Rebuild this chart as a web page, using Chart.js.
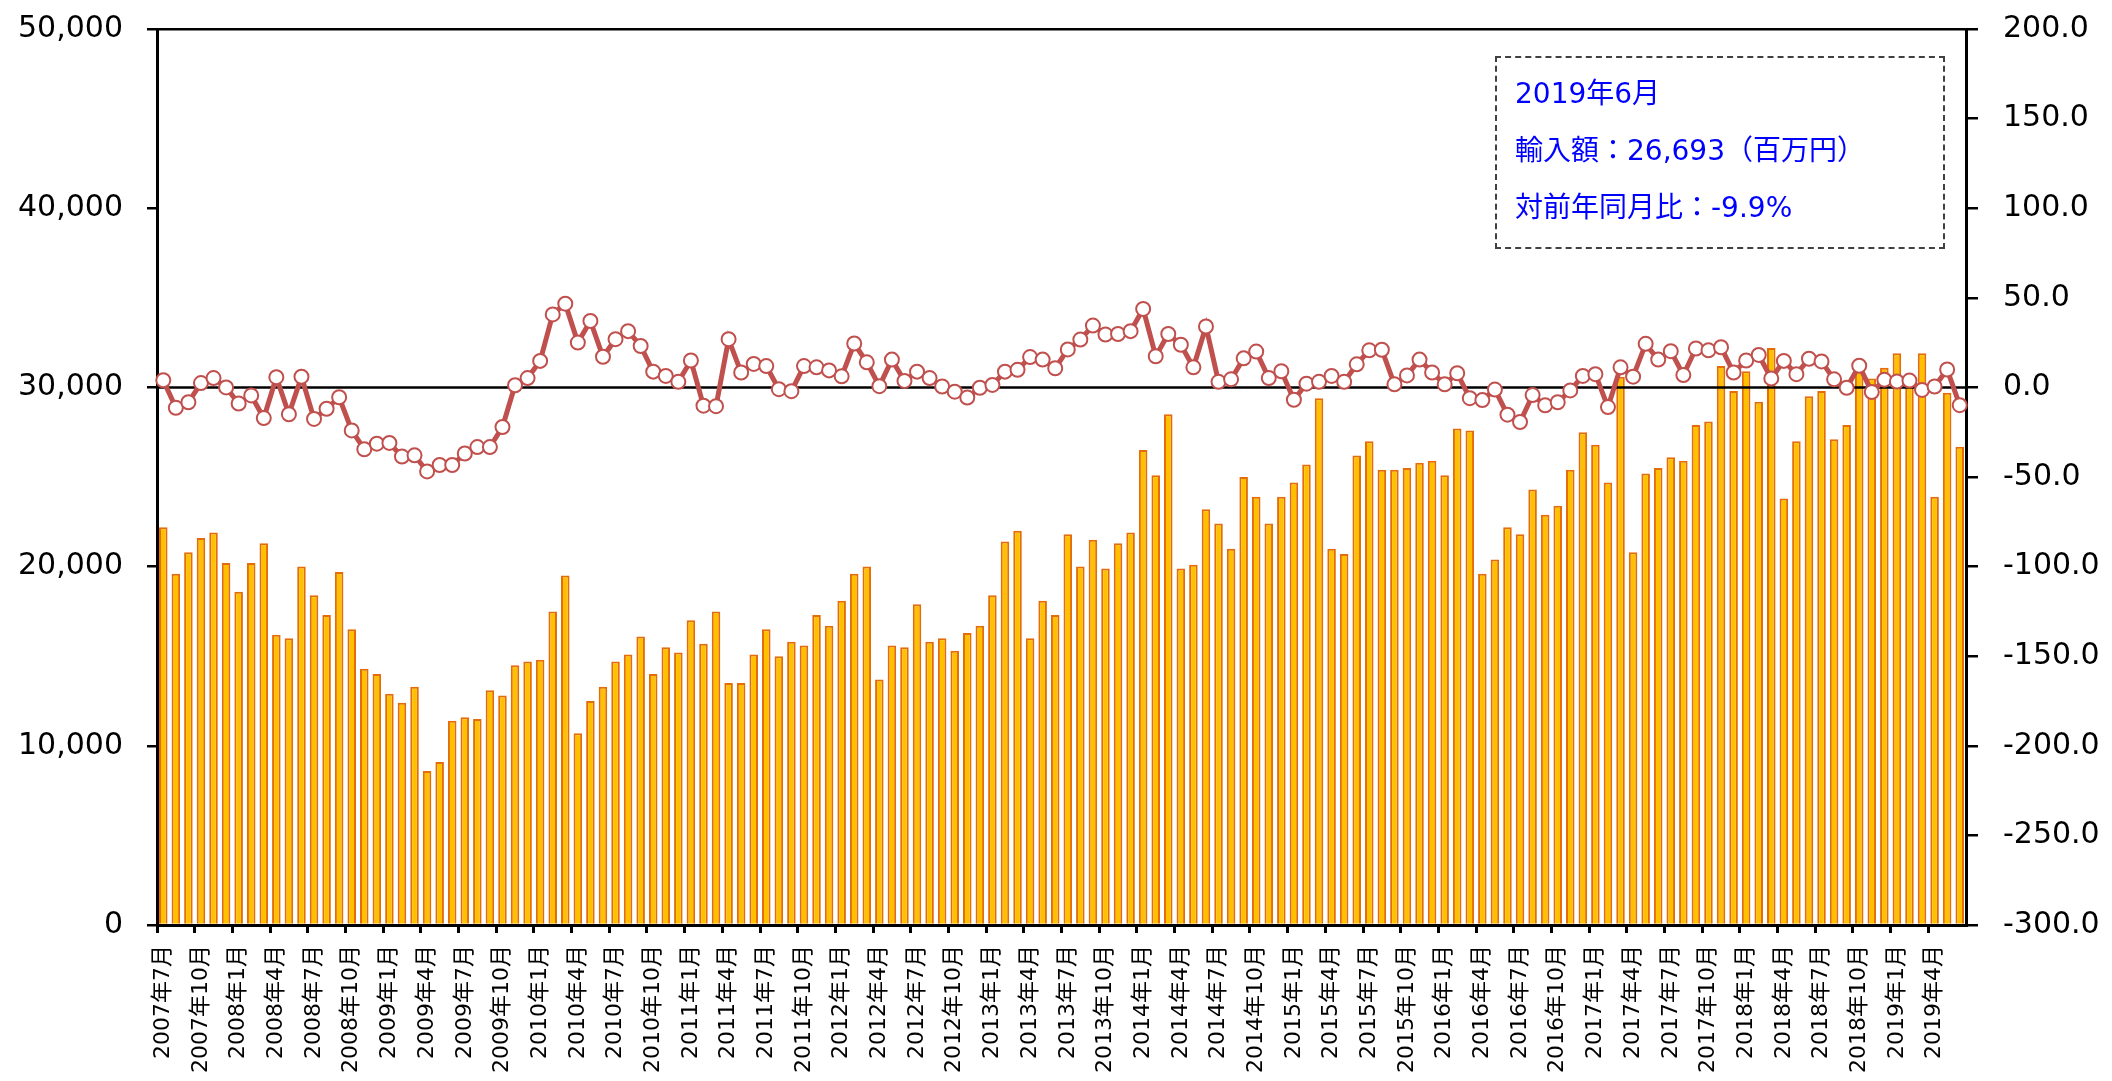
<!DOCTYPE html>
<html lang="ja">
<head>
<meta charset="utf-8">
<title>輸入額の推移</title>
<script src="https://cdn.jsdelivr.net/npm/chart.js@4.4.1/dist/chart.umd.min.js"></script>
<style>
  html, body { margin: 0; padding: 0; background: #fff; }
  .chart-wrap { position: relative; width: 2112px; height: 1081px; }
  .note-box {
    position: absolute;
    left: 1495px;
    top: 56px;
    width: 450px;
    height: 193px;
    box-sizing: border-box;
    border: 2px dashed #404040;
    padding: 7px 0 0 18px;
    color: #0000ff;
    font-family: 'DejaVu Sans', 'Noto Sans CJK JP', sans-serif;
    font-size: 28px;
    line-height: 57px;
    white-space: nowrap;
  }
</style>
</head>
<body>
<div class="chart-wrap">
  <canvas id="importChart"></canvas>
  <div class="note-box">
    <div>2019年6月</div>
    <div>輸入額：26,693（百万円）</div>
    <div>対前年同月比：-9.9%</div>
  </div>
</div>
<script>
// 2007年7月 〜 2019年6月 (月次)
const startYear = 2007;
const startMonth = 7;
const monthCount = 144;

// 輸入額（百万円）
const importValues = [
  22200, 19600, 20800, 21600, 21900, 20200, 18600, 20200, 21300, 16200, 16000, 20000,
  18400, 17300, 19700, 16500, 14300, 14000, 12900, 12400, 13300, 8600, 9100, 11400,
  11600, 11500, 13100, 12800, 14500, 14700, 14800, 17500, 19500, 10700, 12500, 13300,
  14700, 15100, 16100, 14000, 15500, 15200, 17000, 15700, 17500, 13500, 13500, 15100,
  16500, 15000, 15800, 15600, 17300, 16700, 18100, 19600, 20000, 13700, 15600, 15500,
  17900, 15800, 16000, 15300, 16300, 16700, 18400, 21400, 22000, 16000, 18100, 17300,
  21800, 20000, 21500, 19900, 21300, 21900, 26500, 25100, 28500, 19900, 20100, 23200,
  22400, 21000, 25000, 23900, 22400, 23900, 24700, 25700, 29400, 21000, 20700, 26200,
  27000, 25400, 25400, 25500, 25800, 25900, 25100, 27700, 27600, 19600, 20400, 22200,
  21800, 24300, 22900, 23400, 25400, 27500, 26800, 24700, 30600, 20800, 25200, 25500,
  26100, 25900, 27900, 28100, 31200, 29800, 30900, 29200, 32200, 23800, 27000, 29500,
  29800, 27100, 27900, 31200, 30500, 31100, 31900, 30300, 31900, 23900, 29700, 26693
];

// 対前年同月比（%）
const yoyRates = [
  4.0, -11.4, -8.3, 2.4, 5.2, 0.0, -9.0, -4.5, -17.1, 5.7, -15.0, 6.0,
  -17.6, -11.9, -5.5, -24.0, -34.5, -31.4, -31.0, -38.6, -37.9, -46.9, -43.3, -43.3,
  -36.9, -33.3, -33.3, -22.1, 1.2, 5.2, 14.8, 40.7, 46.7, 25.0, 37.1, 17.1,
  26.9, 31.4, 23.1, 8.8, 6.4, 3.1, 15.0, -10.2, -10.5, 26.9, 8.3, 13.1,
  11.9, -1.0, -2.1, 11.9, 11.2, 9.5, 6.2, 24.5, 14.0, 0.7, 15.5, 3.6,
  8.8, 5.2, 0.5, -2.4, -5.7, -0.2, 1.4, 8.8, 9.8, 16.9, 15.5, 10.7,
  21.2, 26.7, 34.5, 29.5, 29.8, 31.4, 43.8, 17.4, 29.8, 23.8, 11.2, 34.0,
  3.1, 4.5, 16.2, 20.0, 5.2, 9.0, -6.9, 2.1, 3.1, 6.4, 3.1, 12.9,
  20.7, 21.0, 1.7, 6.7, 15.5, 8.3, 1.7, 7.9, -6.0, -7.1, -1.2, -15.2,
  -19.3, -4.3, -10.0, -8.3, -1.7, 6.4, 7.4, -11.0, 11.2, 6.0, 24.3, 15.5,
  20.2, 6.9, 21.7, 20.7, 22.4, 8.3, 15.0, 18.1, 5.0, 14.8, 7.4, 16.0,
  14.5, 4.5, -0.2, 12.1, -2.6, 4.3, 3.3, 3.8, -1.4, 0.5, 10.0, -9.9
];

const leftTicks = { min: 0, max: 50000, step: 10000 };
const rightTicks = { min: -300, max: 200, step: 50 };

const monthLabels = [];
for (let i = 0; i < monthCount; i++) {
  const m = startMonth - 1 + i;
  monthLabels.push(`${startYear + Math.floor(m / 12)}年${(m % 12) + 1}月`);
}

const fontFamily = "'DejaVu Sans', 'Noto Sans CJK JP', sans-serif";
const numberFormat = new Intl.NumberFormat('en-US');

// 0% line, drawn after the bars but under the line series
const zeroLinePlugin = {
  id: 'zeroLine',
  afterDatasetDraw(chart, args) {
    if (args.index !== 1) {
      return;
    }
    const { ctx, chartArea, scales } = chart;
    const y = scales.y2.getPixelForValue(0);
    ctx.save();
    ctx.strokeStyle = '#000';
    ctx.lineWidth = 2.5;
    ctx.beginPath();
    ctx.moveTo(chartArea.left, y);
    ctx.lineTo(chartArea.right, y);
    ctx.stroke();
    ctx.restore();
  }
};

// fixed axis sizes so the plot area lines up with the original
function fixVertical(width) {
  return (scale) => {
    scale.width = width;
    scale.paddingTop = 0;
    scale.paddingBottom = 0;
  };
}

new Chart(document.getElementById('importChart'), {
  data: {
    labels: monthLabels,
    datasets: [
      {
        type: 'line',
        label: '対前年同月比',
        data: yoyRates,
        yAxisID: 'y2',
        borderColor: '#C0504D',
        borderWidth: 5,
        pointRadius: 7,
        pointBorderWidth: 2,
        pointBackgroundColor: '#ffffff',
        pointBorderColor: '#C0504D',
        tension: 0,
        order: 1
      },
      {
        type: 'bar',
        label: '輸入額',
        data: importValues,
        yAxisID: 'y',
        backgroundColor: '#FFC000',
        borderColor: '#E46C0A',
        borderWidth: 2,
        barPercentage: 0.68,
        categoryPercentage: 1,
        order: 2
      }
    ]
  },
  options: {
    responsive: true,
    maintainAspectRatio: false,
    animation: false,
    layout: { padding: { top: 29, left: 0, right: 0, bottom: 0 } },
    plugins: {
      legend: { display: false },
      tooltip: { enabled: false }
    },
    scales: {
      x: {
        offset: true,
        grid: {
          offset: true,
          drawOnChartArea: false,
          color: (c) => (c.index % 3 === 0 ? '#000' : 'rgba(0,0,0,0)'),
          lineWidth: 3,
          tickLength: 8
        },
        border: { color: '#000', width: 3 },
        ticks: {
          autoSkip: false,
          minRotation: 90,
          maxRotation: 90,
          padding: 12,
          color: '#000',
          font: { family: fontFamily, size: 22 },
          callback: (value, index) => (index % 3 === 0 ? monthLabels[index] : '')
        },
        afterFit: (scale) => { scale.height = 156; }
      },
      y: {
        position: 'left',
        min: leftTicks.min,
        max: leftTicks.max,
        grid: {
          drawOnChartArea: true,
          color: (c) => (c.tick && c.tick.value === leftTicks.max ? '#000' : 'rgba(0,0,0,0)'),
          tickColor: '#000',
          lineWidth: 2.5,
          tickLength: 10
        },
        border: { color: '#000', width: 3 },
        ticks: {
          stepSize: leftTicks.step,
          padding: 24,
          color: '#000',
          font: { family: fontFamily, size: 30 },
          callback: (value) => numberFormat.format(value)
        },
        afterFit: fixVertical(157)
      },
      y2: {
        position: 'right',
        min: rightTicks.min,
        max: rightTicks.max,
        grid: {
          drawOnChartArea: false,
          color: '#000',
          tickColor: '#000',
          lineWidth: 2.5,
          tickLength: 12
        },
        border: { color: '#000', width: 3 },
        ticks: {
          stepSize: rightTicks.step,
          padding: 25,
          color: '#000',
          font: { family: fontFamily, size: 30 },
          callback: (value) => Number(value).toFixed(1)
        },
        afterFit: fixVertical(146)
      }
    }
  },
  plugins: [zeroLinePlugin]
});
</script>
</body>
</html>
